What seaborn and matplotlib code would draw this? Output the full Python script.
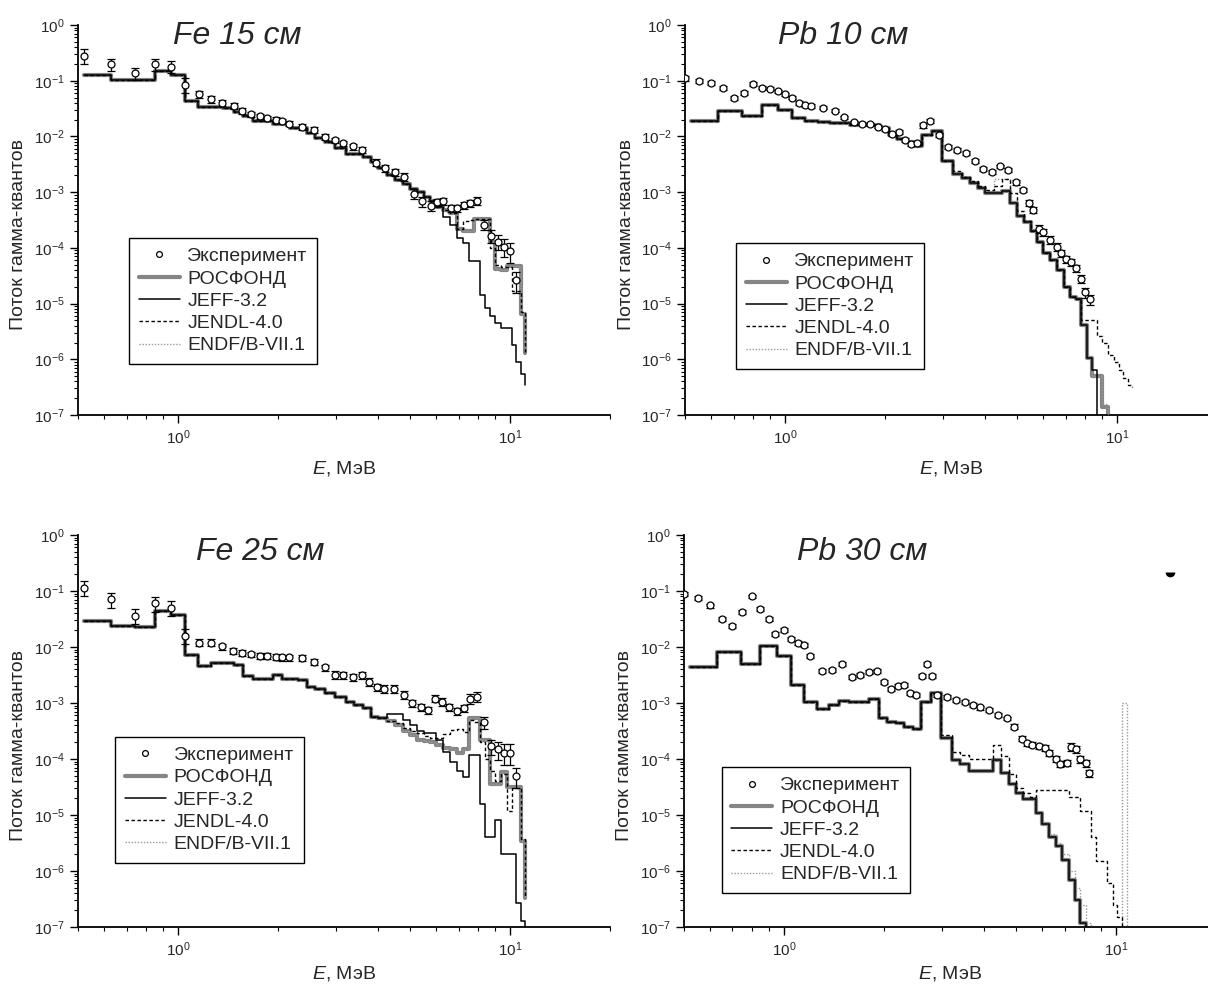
import matplotlib
matplotlib.use("Agg")
import matplotlib.pyplot as plt
import seaborn as sns
from matplotlib.lines import Line2D
from matplotlib.markers import MarkerStyle
from matplotlib.ticker import NullFormatter, LogFormatterSciNotation, FixedLocator

sns.set_style("ticks")
plt.rcParams['font.family'] = ['Liberation Sans', 'DejaVu Sans']
plt.rcParams['mathtext.fontset'] = 'custom'
plt.rcParams['mathtext.rm'] = 'Liberation Sans'
plt.rcParams['mathtext.it'] = 'Liberation Sans:italic'

# energy group boundaries, MeV; every curve has one value per group plus
# the level where its last vertical line ends
edges = [0.52, 0.63, 0.74, 0.85, 0.95, 1.05, 1.15, 1.26, 1.37, 1.47,
         1.57, 1.68, 1.8, 1.93, 2.05, 2.18, 2.3, 2.44, 2.58, 2.78,
         2.98, 3.2, 3.4, 3.6, 3.8, 4.0, 4.25, 4.5, 4.75, 5.0,
         5.25, 5.5, 5.75, 6.0, 6.3, 6.6, 6.9, 7.2, 7.5, 7.8,
         8.1, 8.4, 8.7, 9.0, 9.4, 9.8, 10.1, 10.4, 10.8, 11.1]

# ---------------- Fe 15 cm ----------------
fe15_rosfond = [1.25e-1, 1.05e-1, 1.05e-1, 1.5e-1, 1.25e-1, 4.3e-2, 3.4e-2, 3.4e-2, 3.2e-2, 2.7e-2,
                2.3e-2, 1.9e-2, 1.9e-2, 1.7e-2, 1.7e-2, 1.4e-2, 1.4e-2, 1.14e-2, 9.5e-3, 8.1e-3,
                6.3e-3, 4.8e-3, 4.8e-3, 4.3e-3, 3.5e-3, 2.7e-3, 2.0e-3, 1.66e-3, 1.4e-3, 1.15e-3,
                1.0e-3, 8.3e-4, 6.8e-4, 5.5e-4, 4.8e-4, 4.2e-4, 2.2e-4, 2.0e-4, 2.0e-4, 3.3e-4,
                3.3e-4, 3.3e-4, 1.3e-4, 4.2e-5, 4.0e-5, 4.8e-5, 4.8e-5, 4.8e-5, 6.5e-6, 1.3e-6]
fe15_jeff = fe15_rosfond[:34] + [3.6e-4, 2.6e-4, 1.5e-4, 1.2e-4, 5.8e-5, 5.8e-5,
                                 1.45e-5, 8.3e-6, 6.0e-6, 4.5e-6, 3.6e-6, 3.6e-6,
                                 1.8e-6, 9.0e-7, 5.5e-7, 3.5e-7]
fe15_jendl = fe15_rosfond[:36] + [2.2e-4, 3.0e-4, 3.2e-4, 3.3e-4, 3.3e-4, 3.3e-4,
                                  1.0e-4, 5.0e-5, 4.5e-5, 4.5e-5, 1.7e-5, 1.7e-5,
                                  7.0e-6, 1.3e-6]
fe15_endf = list(fe15_rosfond)
fe15_exp_e = [0.52, 0.63, 0.74, 0.85, 0.95, 1.05, 1.16, 1.26, 1.36, 1.47,
              1.56, 1.66, 1.76, 1.86, 1.97, 2.06, 2.16, 2.37, 2.56, 2.78,
              2.96, 3.15, 3.37, 3.57, 3.94, 4.2, 4.5, 4.8, 5.12, 5.44,
              5.76, 6.04, 6.3, 6.64, 6.93, 7.27, 7.57, 7.94, 8.36, 8.77,
              9.2, 9.6, 10.0, 10.4]
fe15_exp = [0.28, 0.2, 0.135, 0.2, 0.18, 0.085, 0.057, 0.047, 0.040, 0.035,
            0.029, 0.025, 0.023, 0.021, 0.020, 0.019, 0.017, 0.015, 0.013, 0.0098,
            0.0085, 0.0075, 0.0066, 0.0057, 0.0034, 0.0027, 0.0023, 0.0019, 0.00093, 0.00068,
            0.00057, 0.00066, 0.00068, 0.00052, 0.00052, 0.00058, 0.00064, 0.0007, 0.00026, 0.000165,
            0.00013, 0.000105, 0.000088, 0.000026]
fe15_err = [0.3, 0.25, 0.25, 0.25, 0.25, 0.3, 0.15, 0.15, 0.12, 0.12,
            0.12, 0.12, 0.1, 0.1, 0.1, 0.1, 0.1, 0.12, 0.12, 0.12,
            0.12, 0.12, 0.12, 0.12, 0.15, 0.15, 0.15, 0.15, 0.2, 0.2,
            0.2, 0.15, 0.15, 0.15, 0.15, 0.15, 0.15, 0.15, 0.2, 0.25,
            0.3, 0.35, 0.4, 0.4]

# ---------------- Pb 10 cm ----------------
pb10_rosfond = [1.9e-2, 2.9e-2, 2.3e-2, 3.7e-2, 3.0e-2, 2.1e-2, 1.9e-2, 1.8e-2, 1.75e-2, 1.75e-2,
                1.6e-2, 1.6e-2, 1.6e-2, 1.4e-2, 1.06e-2, 8.9e-3, 8.0e-3, 6.8e-3, 1.05e-2, 1.25e-2,
                3.6e-3, 2.1e-3, 1.8e-3, 1.45e-3, 1.17e-3, 9.5e-4, 9.5e-4, 1.05e-3, 6.5e-4, 3.8e-4,
                2.9e-4, 2.0e-4, 1.3e-4, 8.0e-5, 6.0e-5, 4.0e-5, 2.0e-5, 1.3e-5, 1.2e-5, 4.2e-6,
                1.05e-6, 5.0e-7, 5.0e-7, 1.4e-7, 1e-8, 1e-8, 1e-8, 1e-8, 1e-8, 1e-8]
pb10_jeff = pb10_rosfond[:41] + [6.3e-7, 1e-8, 1e-8, 1e-8, 1e-8, 1e-8, 1e-8, 1e-8, 1e-8]
pb10_jendl = pb10_rosfond[:21] + [2.4e-3, 1.9e-3, 1.6e-3, 1.3e-3, 1.1e-3, 1.3e-3, 1.7e-3, 9.5e-4,
                                  4.5e-4, 3.0e-4, 2.0e-4, 1.3e-4, 8.0e-5, 6.0e-5, 4.0e-5, 2.0e-5,
                                  1.3e-5, 1.2e-5, 5.0e-6, 5.0e-6, 5.0e-6, 2.6e-6, 2.0e-6, 1.2e-6,
                                  9.0e-7, 6.5e-7, 4.6e-7, 3.5e-7, 3.2e-7]
pb10_endf = (pb10_rosfond[:26] + [1.7e-3, 1.7e-3, 7.0e-4] + pb10_rosfond[29:43]
             + [1.6e-7, 1e-8, 1e-8, 1e-8, 1e-8, 1e-8, 1e-8])
pb10_exp_e = [0.5, 0.55, 0.6, 0.65, 0.7, 0.75, 0.8, 0.85, 0.9, 0.95,
              1.0, 1.05, 1.1, 1.15, 1.2, 1.3, 1.41, 1.51, 1.61, 1.71,
              1.8, 1.9, 2.0, 2.1, 2.2, 2.3, 2.4, 2.5, 2.6, 2.73,
              2.9, 3.1, 3.3, 3.5, 3.73, 3.95, 4.2, 4.45, 4.7, 4.96,
              5.2, 5.44, 5.6, 5.8, 6.0, 6.3, 6.6, 6.8, 7.0, 7.24,
              7.5, 7.8, 8.0, 8.26]
pb10_exp = [0.11, 0.10, 0.09, 0.075, 0.05, 0.06, 0.088, 0.075, 0.072, 0.065,
            0.057, 0.05, 0.04, 0.036, 0.035, 0.033, 0.029, 0.022, 0.018, 0.017,
            0.0165, 0.015, 0.0135, 0.011, 0.012, 0.0087, 0.0073, 0.0075, 0.016, 0.019,
            0.0105, 0.0065, 0.0057, 0.005, 0.0036, 0.0026, 0.0023, 0.0029, 0.0025, 0.0015,
            0.0011, 0.00065, 0.00048, 0.00022, 0.00019, 0.00014, 0.000105, 8.0e-5, 6.3e-5, 5.6e-5,
            4.3e-5, 2.8e-5, 1.6e-5, 1.2e-5]
pb10_err = [0.1, 0.08, 0.08, 0.08, 0.08, 0.08, 0.08, 0.07, 0.07, 0.07,
            0.07, 0.07, 0.07, 0.07, 0.07, 0.07, 0.07, 0.07, 0.07, 0.07,
            0.07, 0.07, 0.07, 0.07, 0.07, 0.07, 0.07, 0.07, 0.1, 0.1,
            0.08, 0.08, 0.08, 0.08, 0.08, 0.08, 0.08, 0.08, 0.08, 0.1,
            0.1, 0.12, 0.12, 0.15, 0.15, 0.15, 0.15, 0.15, 0.15, 0.15,
            0.15, 0.18, 0.2, 0.2]

# ---------------- Fe 25 cm ----------------
fe25_rosfond = [2.9e-2, 2.4e-2, 2.3e-2, 4.3e-2, 3.7e-2, 7.2e-3, 4.5e-3, 5.2e-3, 5.2e-3, 4.8e-3,
                3.0e-3, 2.7e-3, 2.7e-3, 3.2e-3, 2.7e-3, 2.7e-3, 2.6e-3, 1.9e-3, 1.75e-3, 1.5e-3,
                1.3e-3, 1.05e-3, 9.2e-4, 8.0e-4, 5.6e-4, 5.3e-4, 4.7e-4, 4.1e-4, 3.1e-4, 2.7e-4,
                2.2e-4, 2.1e-4, 2.0e-4, 1.8e-4, 1.6e-4, 1.5e-4, 1.3e-4, 1.5e-4, 5.5e-4, 5.5e-4,
                2.2e-4, 2.2e-4, 3.6e-5, 3.6e-5, 5.8e-5, 3.2e-5, 3.2e-5, 3.2e-5, 3.5e-6, 3.3e-7]
fe25_jeff = fe25_rosfond[:26] + [6.3e-4, 6.3e-4, 5.0e-4, 4.1e-4, 3.2e-4, 2.9e-4, 2.9e-4, 2.2e-4,
                                 1.35e-4, 9.0e-5, 6.2e-5, 4.7e-5, 1.2e-4, 1.2e-4, 1.6e-5, 4.0e-6,
                                 4.0e-6, 8.0e-6, 2.0e-6, 2.0e-6, 2.0e-6, 2.7e-7, 1.3e-7, 1e-8]
fe25_jendl = fe25_rosfond[:27] + [4.3e-4, 3.6e-4, 3.2e-4, 2.9e-4, 2.6e-4, 2.4e-4, 2.4e-4, 2.8e-4,
                                  3.3e-4, 3.5e-4, 3.0e-4, 5.0e-4, 4.5e-4, 2.0e-4, 1.0e-4, 6.0e-5,
                                  4.0e-5, 5.5e-5, 1.2e-5, 3.0e-5, 3.0e-5, 3.8e-6, 3.3e-7]
fe25_endf = list(fe25_rosfond)
fe25_exp_e = [0.52, 0.63, 0.74, 0.85, 0.95, 1.05, 1.16, 1.26, 1.36, 1.46,
              1.56, 1.66, 1.76, 1.86, 1.97, 2.06, 2.16, 2.37, 2.56, 2.78,
              2.96, 3.15, 3.37, 3.57, 3.76, 3.97, 4.17, 4.47, 4.78, 5.08,
              5.38, 5.65, 5.95, 6.25, 6.55, 6.9, 7.25, 7.57, 7.94, 8.36,
              8.77, 9.2, 9.6, 10.0, 10.4]
fe25_exp = [0.115, 0.072, 0.036, 0.06, 0.05, 0.016, 0.012, 0.012, 0.0102, 0.0085,
            0.0079, 0.0074, 0.007, 0.0069, 0.0067, 0.0065, 0.0065, 0.0063, 0.0055, 0.0043,
            0.0032, 0.0031, 0.0029, 0.0031, 0.0024, 0.0019, 0.0018, 0.0018, 0.0014, 0.00098,
            0.00085, 0.00075, 0.0012, 0.00105, 0.00083, 0.00072, 0.0008, 0.0012, 0.0013, 0.00045,
            0.00017, 0.00015, 0.00013, 0.00013, 0.00005]
fe25_err = [0.3, 0.3, 0.3, 0.3, 0.3, 0.3, 0.15, 0.15, 0.12, 0.12,
            0.12, 0.12, 0.12, 0.12, 0.12, 0.12, 0.12, 0.12, 0.12, 0.12,
            0.15, 0.15, 0.15, 0.15, 0.15, 0.15, 0.15, 0.15, 0.15, 0.15,
            0.15, 0.15, 0.15, 0.15, 0.15, 0.15, 0.15, 0.2, 0.2, 0.25,
            0.3, 0.35, 0.4, 0.4, 0.4]

# ---------------- Pb 30 cm ----------------
pb30_rosfond = [4.3e-3, 8.2e-3, 5.0e-3, 1.02e-2, 6.8e-3, 2.1e-3, 1.05e-3, 7.8e-4, 9.2e-4, 1.1e-3,
                1.05e-3, 1.05e-3, 1.2e-3, 5.3e-4, 4.5e-4, 4.4e-4, 3.8e-4, 3.5e-4, 1.02e-3, 1.5e-3,
                2.4e-4, 9.4e-5, 8.2e-5, 6.1e-5, 6.2e-5, 6.2e-5, 9.4e-5, 5.6e-5, 3.6e-5, 2.5e-5,
                1.9e-5, 1.9e-5, 1.1e-5, 7.0e-6, 4.0e-6, 2.8e-6, 1.6e-6, 7.0e-7, 3.0e-7, 1.2e-7,
                1e-8, 1e-8, 1e-8, 1e-8, 1e-8, 1e-8, 1e-8, 1e-8, 1e-8, 1e-8]
pb30_jeff = list(pb30_rosfond)
pb30_jendl = pb30_rosfond[:20] + [2.7e-4, 1.35e-4, 1.2e-4, 1.0e-4, 1.0e-4, 1.0e-4, 1.8e-4, 1.15e-4,
                                  5.5e-5, 3.0e-5, 2.5e-5, 2.1e-5, 2.8e-5, 2.8e-5, 2.8e-5, 2.8e-5,
                                  2.8e-5, 2.1e-5, 2.1e-5, 1.2e-5, 1.2e-5, 4.0e-6, 1.5e-6, 1.5e-6,
                                  6.0e-7, 2.5e-7, 1.5e-7, 1e-8, 1e-8, 1e-8]
pb30_endf = pb30_rosfond[:33] + [7.5e-6, 4.5e-6, 3.2e-6, 2.0e-6, 1.0e-6, 5.0e-7, 2.5e-7, 1.2e-7,
                                 1e-8, 1e-8, 1e-8, 1e-8, 1e-8, 1e-8, 1.0e-3, 1e-8, 1e-8]
pb30_exp_e = [0.5, 0.55, 0.6, 0.65, 0.7, 0.75, 0.8, 0.85, 0.9, 0.94,
              1.0, 1.05, 1.1, 1.15, 1.2, 1.3, 1.4, 1.5, 1.6, 1.7,
              1.8, 1.9, 2.0, 2.1, 2.2, 2.3, 2.4, 2.5, 2.6, 2.7,
              2.8, 2.9, 3.1, 3.3, 3.5, 3.7, 3.9, 4.15, 4.4, 4.7,
              4.94, 5.2, 5.4, 5.6, 5.85, 6.1, 6.3, 6.6, 6.8, 7.1,
              7.3, 7.6, 7.8, 8.1, 8.3]
pb30_exp = [0.088, 0.075, 0.055, 0.032, 0.024, 0.042, 0.08, 0.047, 0.032, 0.017,
            0.02, 0.014, 0.012, 0.011, 0.007, 0.0037, 0.0039, 0.005, 0.0029, 0.0032,
            0.0036, 0.0037, 0.0024, 0.0018, 0.002, 0.0021, 0.0015, 0.0014, 0.003, 0.005,
            0.003, 0.0014, 0.0013, 0.00115, 0.00105, 0.00092, 0.00083, 0.00075, 0.00062, 0.00053,
            0.00038, 0.00023, 0.00019, 0.00018, 0.00017, 0.00016, 0.00013, 0.0001, 8.3e-5, 8.5e-5,
            0.000165, 0.00015, 0.0001, 8.5e-5, 5.6e-5]
pb30_err = [0.08, 0.08, 0.08, 0.08, 0.08, 0.08, 0.08, 0.08, 0.08, 0.08,
            0.08, 0.08, 0.08, 0.08, 0.08, 0.08, 0.08, 0.08, 0.08, 0.08,
            0.08, 0.08, 0.08, 0.08, 0.08, 0.08, 0.08, 0.08, 0.08, 0.08,
            0.08, 0.08, 0.08, 0.08, 0.08, 0.08, 0.08, 0.08, 0.08, 0.08,
            0.1, 0.1, 0.1, 0.1, 0.1, 0.12, 0.12, 0.12, 0.12, 0.12,
            0.15, 0.15, 0.15, 0.15, 0.15]

x_major = [1, 10]
x_minor = [0.5, 0.6, 0.7, 0.8, 0.9, 2, 3, 4, 5, 6, 7, 8, 9, 20]
y_major = [1e-7, 1e-6, 1e-5, 1e-4, 1e-3, 1e-2, 1e-1, 1e0]
y_minor = [m * d for d in y_major[:-1] for m in range(2, 10)]

panels = [
    dict(title='Fe 15 см', rect=[0.0646, 0.5804, 0.4404, 0.3943], title_xy=(0.299, 0.972),
         leg_xy=(0.096, 0.454), xpad=8.5, e=fe15_exp_e, v=fe15_exp, err=fe15_err,
         curves=(fe15_rosfond, fe15_jeff, fe15_jendl, fe15_endf)),
    dict(title='Pb 10 см', rect=[0.5671, 0.5804, 0.4404, 0.3943], title_xy=(0.297, 0.972),
         leg_xy=(0.096, 0.441), xpad=8.5, e=pb10_exp_e, v=pb10_exp, err=pb10_err,
         curves=(pb10_rosfond, pb10_jeff, pb10_jendl, pb10_endf)),
    dict(title='Fe 25 см', rect=[0.0646, 0.0627, 0.4404, 0.3964], title_xy=(0.342, 0.957),
         leg_xy=(0.070, 0.485), xpad=3.5, e=fe25_exp_e, v=fe25_exp, err=fe25_err,
         curves=(fe25_rosfond, fe25_jeff, fe25_jendl, fe25_endf)),
    dict(title='Pb 30 см', rect=[0.5662, 0.0627, 0.4404, 0.3964], title_xy=(0.335, 0.957),
         leg_xy=(0.071, 0.408), xpad=3.5, e=pb30_exp_e, v=pb30_exp, err=pb30_err,
         curves=(pb30_rosfond, pb30_jeff, pb30_jendl, pb30_endf)),
]

GRAY = '#858585'
styles = [
    dict(color=GRAY, linewidth=3.0, linestyle='-', zorder=2),
    dict(color='black', linewidth=1.1, linestyle='-', zorder=4),
    dict(color='black', linewidth=1.0, linestyle=(0, (2.5, 1.8)), zorder=3),
    dict(color='#9a9a9a', linewidth=1.0, linestyle=(0, (1.0, 1.2)), zorder=3),
]

fig = plt.figure(figsize=(12.08, 9.89), dpi=100)

for p in panels:
    ax = fig.add_axes(p['rect'])
    ax.set_xscale('log')
    ax.set_yscale('log')

    # grey ones first, black JEFF on top
    for idx in (0, 3, 2, 1):
        sns.lineplot(x=edges, y=p['curves'][idx], ax=ax, drawstyle='steps-post',
                     estimator=None, sort=False, legend=False, **styles[idx])

    yerr = [v * r for v, r in zip(p['v'], p['err'])]
    ax.errorbar(p['e'], p['v'], yerr=yerr, fmt='o', ms=5, mfc='white', mec='black',
                mew=0.9, ecolor='black', elinewidth=0.9, capsize=3, capthick=0.9, zorder=5)

    ax.set_xlim(0.5, 20)
    ax.set_ylim(1e-7, 1)
    ax.xaxis.set_major_locator(FixedLocator(x_major))
    ax.xaxis.set_minor_locator(FixedLocator(x_minor))
    ax.xaxis.set_major_formatter(LogFormatterSciNotation())
    ax.xaxis.set_minor_formatter(NullFormatter())
    ax.yaxis.set_major_locator(FixedLocator(y_major))
    ax.yaxis.set_minor_locator(FixedLocator(y_minor))
    ax.yaxis.set_major_formatter(LogFormatterSciNotation())
    ax.yaxis.set_minor_formatter(NullFormatter())
    ax.tick_params(which='major', direction='out', length=6, width=1.0, labelsize=11, color='black')
    ax.tick_params(which='minor', direction='out', length=3, width=0.8, color='black')

    sns.despine(ax=ax)
    for s in ('left', 'bottom'):
        ax.spines[s].set_linewidth(1.3)
        ax.spines[s].set_color('black')

    ax.set_xlabel('$E$, МэВ', fontsize=14, labelpad=p['xpad'])
    ax.set_ylabel('Поток гамма-квантов', fontsize=14)
    ax.yaxis.set_label_coords(-0.095, 0.464)
    ax.text(p['title_xy'][0], p['title_xy'][1], p['title'], transform=ax.transAxes,
            fontsize=23, style='italic', ha='center', va='center')

    handles = [
        Line2D([], [], linestyle='none', marker='o', ms=4.2, mfc='white', mec='black', mew=0.9),
        Line2D([], [], color=GRAY, linewidth=3.0),
        Line2D([], [], color='black', linewidth=1.1),
        Line2D([], [], color='black', linewidth=1.0, linestyle=(0, (2.5, 1.8))),
        Line2D([], [], color='#9a9a9a', linewidth=1.0, linestyle=(0, (1.0, 1.2))),
    ]
    labels = ['Эксперимент', 'РОСФОНД', 'JEFF-3.2', 'JENDL-4.0', 'ENDF/B-VII.1']
    leg = ax.legend(handles, labels, loc='upper left', bbox_to_anchor=p['leg_xy'],
                    borderaxespad=0, frameon=True, fancybox=False, framealpha=1,
                    edgecolor='black', fontsize=14, handlelength=2.1, handletextpad=0.4,
                    labelspacing=0.24, borderpad=0.5)
    leg.get_frame().set_linewidth(1.0)

    if p['title'] == 'Pb 30 см':
        ax.plot([0.913], [0.906], transform=ax.transAxes, linestyle='none',
                marker=MarkerStyle('o', fillstyle='bottom'), ms=7, mfc='black',
                mec='none', clip_on=False)

fig.savefig('out.png', dpi=100)
